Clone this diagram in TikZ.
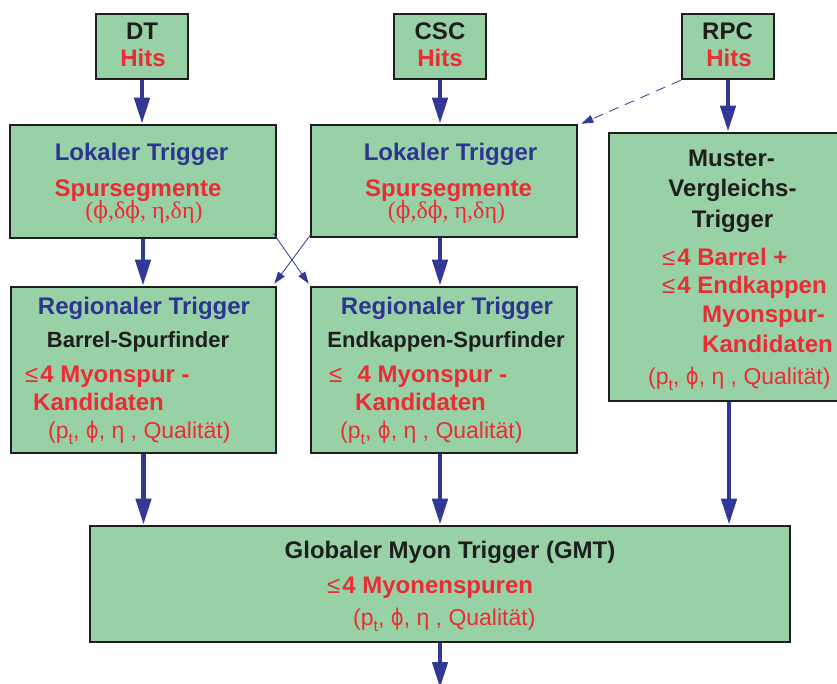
\documentclass[tikz,border=0pt]{standalone}
\usepackage{fontspec}
\setmainfont{Liberation Sans}
\newfontfamily\serifgreek{Liberation Serif}
\newfontfamily\dvsans{DejaVu Sans}
\newfontfamily\dvserif{DejaVu Serif}
\usetikzlibrary{arrows.meta}
\definecolor{boxgreen}{RGB}{153,209,166}
\definecolor{arrowblue}{RGB}{50,56,150}
\definecolor{txtred}{RGB}{234,45,52}
\definecolor{txtblue}{RGB}{46,52,146}
\definecolor{txtblack}{RGB}{30,30,30}
\newcommand{\lesym}{{\mdseries ≤}\kern2pt}
\newcommand{\ptsub}{p\raisebox{-6pt}{\fontsize{16}{16}\selectfont t}}
\newcommand{\sphi}{{\dvsans\scalebox{0.85}[1]{ϕ}}}
\newcommand{\serphi}{{\dvserif\scalebox{0.9}[1]{ϕ}}}
\begin{document}
\begin{tikzpicture}[x=1pt,y=-1pt,
  box/.style={draw=txtblack, line width=2.6pt, fill=boxgreen, inner sep=0pt},
  bigarrow/.style={draw=arrowblue, line width=4.5pt, -{Triangle[length=26pt,width=15pt]}},
  thinarrow/.style={draw=arrowblue, line width=0.8pt, -{Triangle[length=12pt,width=8pt]}},
  tblue/.style={inner sep=0pt, text=txtblue, font=\fontsize{24}{28}\selectfont\bfseries},
  tblack/.style={inner sep=0pt, text=txtblack, font=\fontsize{24}{28}\selectfont\bfseries},
  tblacks/.style={inner sep=0pt, text=txtblack, font=\fontsize{22}{26}\selectfont\bfseries},
  tred/.style={inner sep=0pt, text=txtred, font=\fontsize{24}{28}\selectfont\bfseries},
  tredr/.style={inner sep=0pt, text=txtred, font=\fontsize{23}{27}\selectfont},
  tgreek/.style={inner sep=0pt, text=txtred, font=\fontsize{24}{28}\selectfont\serifgreek},
]
\useasboundingbox (0,0) rectangle (837,684);
\clip (0,0) rectangle (837,684);

% boxes
\node[box, minimum width=92pt, minimum height=65pt] (dt) at (142,46.5) {};
\node[box, minimum width=92pt, minimum height=65pt] (csc) at (440,46.5) {};
\node[box, minimum width=92pt, minimum height=65pt] (rpc) at (728,46.5) {};
\node[box, minimum width=266pt, minimum height=113pt] (lok1) at (143,181.5) {};
\node[box, minimum width=266pt, minimum height=112pt] (lok2) at (444,181) {};
\node[box, minimum width=240pt, minimum height=268pt] (mus) at (729,267) {};
\node[box, minimum width=265pt, minimum height=166pt] (reg1) at (143.5,370) {};
\node[box, minimum width=266pt, minimum height=166pt] (reg2) at (444,370) {};
\node[box, minimum width=700pt, minimum height=116pt] (gmt) at (440,584) {};
\coordinate (out) at (440,688);

% big arrows
\draw[bigarrow] (dt.south) -- (dt.south |- lok1.north);
\draw[bigarrow] (csc.south) -- (csc.south |- lok2.north);
\draw[bigarrow] (rpc.south) -- (rpc.south |- mus.north);
\draw[bigarrow] (lok1.south) -- (lok1.south |- reg1.north);
\draw[bigarrow] ([xshift=-4pt]lok2.south) -- ([xshift=-4pt]lok2.south |- reg2.north);
\draw[bigarrow] (reg1.south) -- (reg1.south |- gmt.north);
\draw[bigarrow] ([xshift=-4pt]reg2.south) -- ([xshift=-4pt]reg2.south |- gmt.north);
\draw[bigarrow] (mus.south) -- (mus.south |- gmt.north);
\draw[bigarrow] (gmt.south) -- (out);

% thin arrows
\draw[thinarrow, dash pattern=on 10pt off 7pt] (rpc.south west) -- ([xshift=3pt]lok2.north east);
\draw[thinarrow] ([shift={(-4,-6)}]lok1.south east) -- ([shift={(-1,-2)}]reg2.north west);
\draw[thinarrow] ([shift={(2,-5)}]lok2.south west) -- ([shift={(-3,-2)}]reg1.north east);

% top boxes text
\node[tblack, anchor=base] (dtA) at (142,40) {DT};
\node[tred, anchor=base] (dtB) at (143,67) {Hits};
\node[tblack, anchor=base] (cscA) at (440,40) {CSC};
\node[tred, anchor=base] (cscB) at (440,67) {Hits};
\node[tblack, anchor=base] (rpcA) at (727.5,40) {RPC};
\node[tred, anchor=base] (rpcB) at (729,67) {Hits};

% Lokaler
\node[tblue, anchor=base] (l1a) at (141.5,161) {Lokaler Trigger};
\node[tred, anchor=base] (l1b) at (138,197) {Spursegmente};
\node[tgreek, anchor=base] (l1c) at (144,219) {(\serphi,δ\serphi, η,δη)};
\node[tblue, anchor=base] (l2a) at (450.5,161) {Lokaler Trigger};
\node[tred, anchor=base] (l2b) at (448.5,197) {Spursegmente};
\node[tgreek, anchor=base] (l2c) at (446.5,219) {(\serphi,δ\serphi, η,δη)};

% Muster
\node[tblack, anchor=base] (m1) at (731.5,167) {Muster-};
\node[tblack, anchor=base] (m2) at (732.5,197) {Vergleichs-};
\node[tblack, anchor=base] (m3) at (732.5,228) {Trigger};
\node[tred, anchor=base west] (m4) at (662,266) {\lesym4 Barrel +};
\node[tred, anchor=base west] (m5) at (662,294) {\lesym4 Endkappen};
\node[tred, anchor=base west] (m6) at (702,322) {Myonspur-};
\node[tred, anchor=base west] (m7) at (702,352) {Kandidaten};
\node[tredr, anchor=base west] (m8) at (648,384) {(\ptsub, \sphi, η , Qualität)};

% Regional 1
\node[tblue, anchor=base] (r1a) at (144,314) {Regionaler Trigger};
\node[tblacks, anchor=base] (r1b) at (138,347) {Barrel-Spurfinder};
\node[tred, anchor=base west] (r1c) at (25,382) {\lesym4 Myonspur -};
\node[tred, anchor=base west] (r1d) at (33,410) {Kandidaten};
\node[tredr, anchor=base west] (r1e) at (48,438) {(\ptsub, \sphi, η , Qualität)};

% Regional 2
\node[tblue, anchor=base] (r2a) at (447,314) {Regionaler Trigger};
\node[tblacks, anchor=base] (r2b) at (446,347) {Endkappen-Spurfinder};
\node[tred, anchor=base west] (r2c) at (329,382) {\lesym\ \ 4 Myonspur -};
\node[tred, anchor=base west] (r2d) at (355,410) {Kandidaten};
\node[tredr, anchor=base west] (r2e) at (340,438) {(\ptsub, \sphi, η , Qualität)};

% GMT
\node[tblack, anchor=base] (g1) at (450,558) {Globaler Myon Trigger (GMT)};
\node[tred, anchor=base west] (g2) at (327,593) {\lesym4 Myonenspuren};
\node[tredr, anchor=base west] (g3) at (353,625) {(\ptsub, \sphi, η , Qualität)};
\end{tikzpicture}
\end{document}
